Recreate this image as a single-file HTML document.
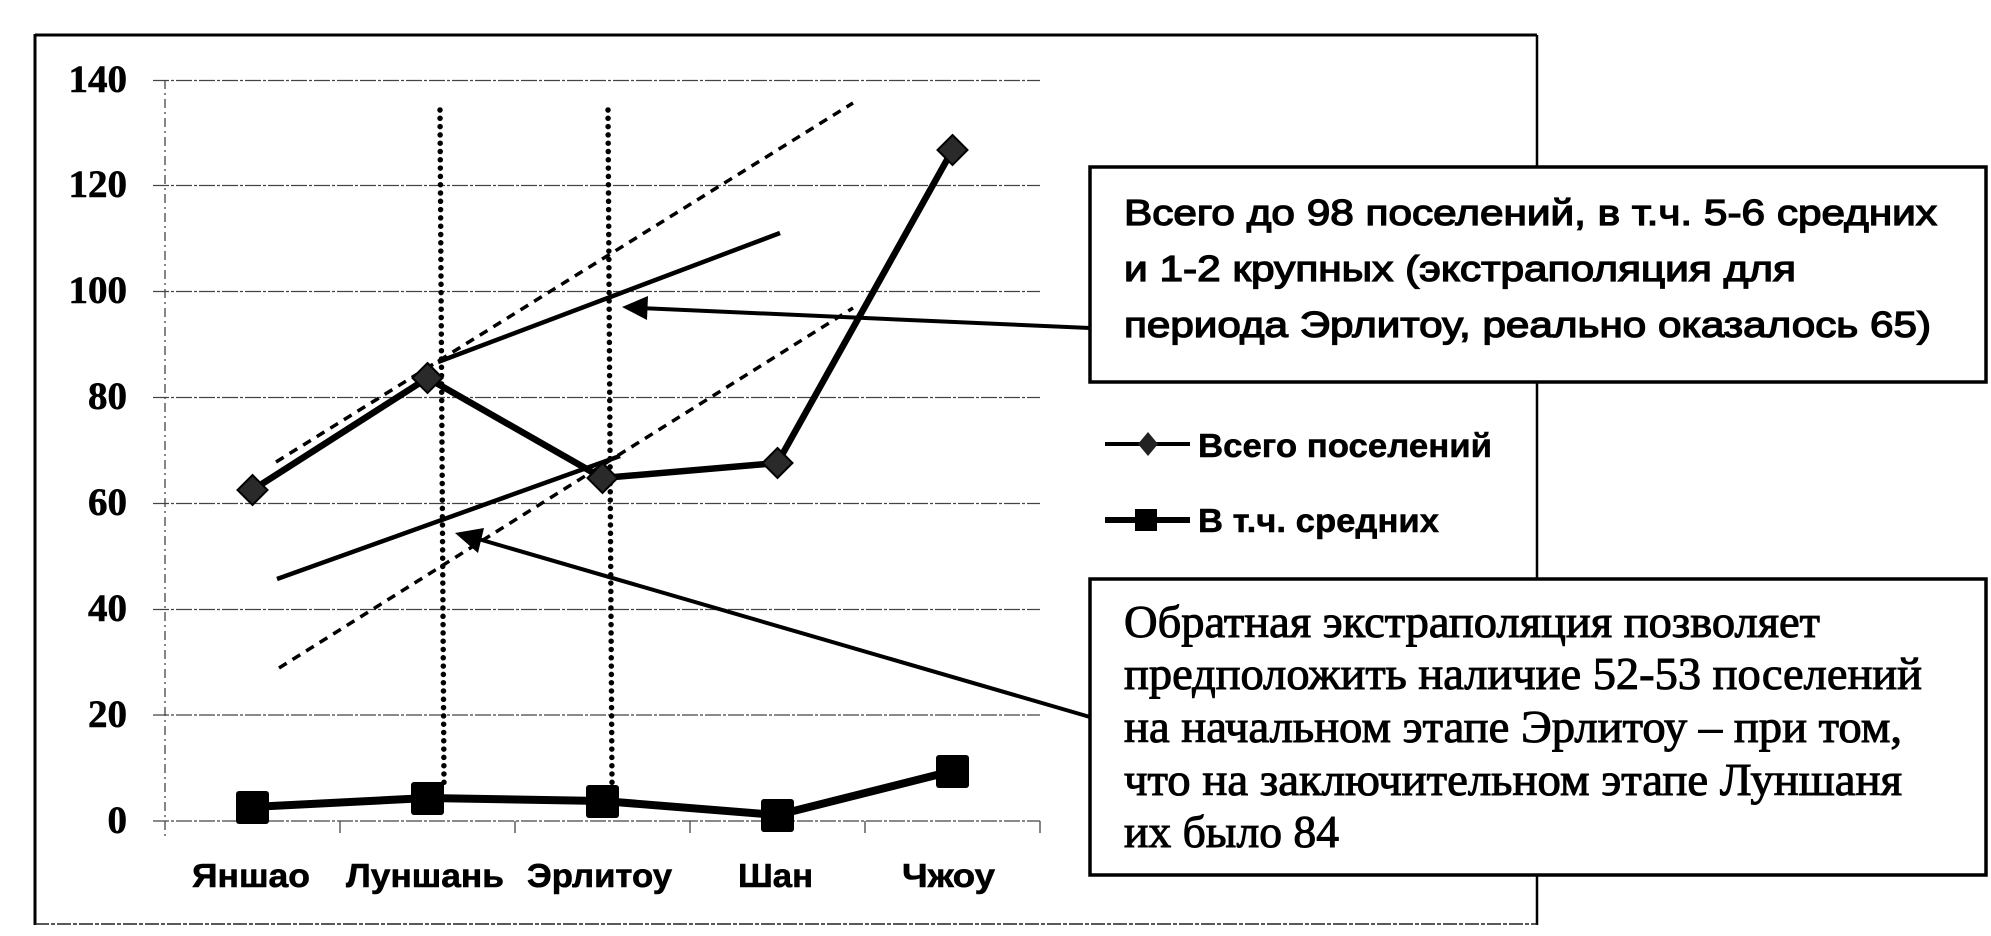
<!DOCTYPE html>
<html><head><meta charset="utf-8"><style>
html,body{margin:0;padding:0;background:#fff;}
svg{display:block;}
</style></head><body>
<svg width="1991" height="936" viewBox="0 0 1991 936" xmlns="http://www.w3.org/2000/svg">
<rect width="1991" height="936" fill="#fff"/>
<!-- outer chart border -->
<line x1="35" y1="35" x2="1537" y2="35" stroke="#000" stroke-width="3"/>
<line x1="35" y1="34" x2="35" y2="925" stroke="#000" stroke-width="3"/>
<line x1="1537" y1="35" x2="1537" y2="925" stroke="#000" stroke-width="2.5"/>
<line x1="35" y1="924" x2="1537" y2="924" stroke="#222" stroke-width="1.6" stroke-dasharray="14 2 4 2"/>

<!-- gridlines -->
<g stroke="#444" stroke-width="1.3" stroke-dasharray="16 2 3 2">
<line x1="153" y1="80.5" x2="1040" y2="80.5"/>
<line x1="153" y1="185.5" x2="1040" y2="185.5"/>
<line x1="153" y1="291.5" x2="1040" y2="291.5"/>
<line x1="153" y1="397.5" x2="1040" y2="397.5"/>
<line x1="153" y1="503.5" x2="1040" y2="503.5"/>
<line x1="153" y1="609.5" x2="1040" y2="609.5"/>
<line x1="153" y1="715" x2="1040" y2="715"/>
<line x1="153" y1="821" x2="1040" y2="821"/>
</g>
<!-- y axis -->
<line x1="165" y1="80" x2="165" y2="836" stroke="#444" stroke-width="1.3" stroke-dasharray="9 4 2 4"/>
<!-- x ticks -->
<g stroke="#444" stroke-width="1.3">
<line x1="340" y1="821" x2="340" y2="833"/>
<line x1="515" y1="821" x2="515" y2="833"/>
<line x1="690" y1="821" x2="690" y2="833"/>
<line x1="865" y1="821" x2="865" y2="833"/>
<line x1="1040" y1="821" x2="1040" y2="833"/>
</g>

<!-- y labels -->
<g font-family="Liberation Serif, serif" font-weight="bold" font-size="39" text-anchor="end" fill="#000" stroke="#000" stroke-width="0.6">
<text x="127" y="92">140</text>
<text x="127" y="197">120</text>
<text x="127" y="303">100</text>
<text x="127" y="409">80</text>
<text x="127" y="515">60</text>
<text x="127" y="621">40</text>
<text x="127" y="727">20</text>
<text x="127" y="833">0</text>
</g>

<!-- x labels -->
<g font-family="Liberation Sans, sans-serif" font-weight="bold" font-size="33" fill="#000" stroke="#000" stroke-width="0.6">
<text x="192" y="887" textLength="118" lengthAdjust="spacingAndGlyphs">Яншао</text>
<text x="346" y="887" textLength="158" lengthAdjust="spacingAndGlyphs">Луншань</text>
<text x="527" y="887" textLength="145" lengthAdjust="spacingAndGlyphs">Эрлитоу</text>
<text x="738" y="887" textLength="75" lengthAdjust="spacingAndGlyphs">Шан</text>
<text x="902" y="887" textLength="93" lengthAdjust="spacingAndGlyphs">Чжоу</text>
</g>

<!-- vertical dotted lines -->
<g stroke="#000" stroke-width="5.5" stroke-linecap="round" stroke-dasharray="0 8.3" fill="none">
<line x1="440" y1="110" x2="444" y2="783"/>
<line x1="608" y1="110" x2="612" y2="783"/>
</g>

<!-- dashed trend lines -->
<g stroke="#000" stroke-width="3.5" stroke-dasharray="9 7" fill="none">
<line x1="276" y1="462" x2="853" y2="103"/>
<line x1="279" y1="668" x2="853" y2="308"/>
</g>
<!-- solid trend lines -->
<g stroke="#000" stroke-width="4.5" fill="none">
<line x1="438" y1="362" x2="780" y2="233"/>
<line x1="277" y1="579" x2="620" y2="456"/>
</g>

<!-- Всего series -->
<polyline points="252.5,490 427.5,378 602.5,478 777.5,463 952.5,150" fill="none" stroke="#000" stroke-width="6.5" stroke-linejoin="round"/>
<g fill="#2a2a2a" stroke="#000" stroke-width="2">
<polygon points="252.5,475 267.5,490 252.5,505 237.5,490"/>
<polygon points="427.5,363 442.5,378 427.5,393 412.5,378"/>
<polygon points="602.5,463 617.5,478 602.5,493 587.5,478"/>
<polygon points="777.5,448 792.5,463 777.5,478 762.5,463"/>
<polygon points="952.5,135 967.5,150 952.5,165 937.5,150"/>
</g>

<!-- Средних series -->
<polyline points="252.5,807 427.5,798 602.5,801 777.5,815 952.5,771" fill="none" stroke="#000" stroke-width="8" stroke-linejoin="round"/>
<g fill="#000">
<rect x="236" y="791" width="33" height="33" rx="3"/>
<rect x="411" y="782" width="33" height="33" rx="3"/>
<rect x="586" y="785" width="33" height="33" rx="3"/>
<rect x="761" y="799" width="33" height="33" rx="3"/>
<rect x="936" y="755" width="33" height="33" rx="3"/>
</g>

<!-- legend -->
<line x1="1105" y1="444" x2="1190" y2="444" stroke="#000" stroke-width="4"/>
<polygon points="1148,432 1158,444 1148,456 1138,444" fill="#222"/>
<line x1="1105" y1="520" x2="1190" y2="520" stroke="#000" stroke-width="6"/>
<rect x="1135" y="509" width="22" height="22" fill="#000"/>
<g font-family="Liberation Sans, sans-serif" font-weight="bold" font-size="33" fill="#000" stroke="#000" stroke-width="0.5">
<text x="1198" y="457" textLength="294" lengthAdjust="spacingAndGlyphs">Всего поселений</text>
<text x="1198" y="532" textLength="241" lengthAdjust="spacingAndGlyphs">В т.ч. средних</text>
</g>

<!-- arrows -->
<g stroke="#000" stroke-width="4" fill="none">
<line x1="1090" y1="328" x2="640" y2="308"/>
<line x1="1090" y1="717" x2="475" y2="538"/>
</g>
<polygon points="622,307 648,296 647,320" fill="#000"/>
<polygon points="455,533 484,528 478,553" fill="#000"/>

<!-- box 1 -->
<rect x="1090" y="167" width="896" height="215" fill="#fff" stroke="#000" stroke-width="3.5"/>
<g font-family="Liberation Sans, sans-serif" font-size="36" fill="#000" stroke="#000" stroke-width="1.3">
<text x="1124" y="225" textLength="813" lengthAdjust="spacingAndGlyphs">Всего до 98 поселений, в т.ч. 5-6 средних</text>
<text x="1124" y="281" textLength="672" lengthAdjust="spacingAndGlyphs">и 1-2 крупных (экстраполяция для</text>
<text x="1124" y="337" textLength="807" lengthAdjust="spacingAndGlyphs">периода Эрлитоу, реально оказалось 65)</text>
</g>

<!-- box 2 -->
<rect x="1090" y="579" width="896" height="296" fill="#fff" stroke="#000" stroke-width="3.5"/>
<g font-family="Liberation Serif, serif" font-size="45" fill="#000" stroke="#000" stroke-width="1">
<text x="1124" y="637" textLength="696" lengthAdjust="spacingAndGlyphs">Обратная экстраполяция позволяет</text>
<text x="1124" y="689" textLength="798" lengthAdjust="spacingAndGlyphs">предположить наличие 52-53 поселений</text>
<text x="1124" y="742" textLength="778" lengthAdjust="spacingAndGlyphs">на начальном этапе Эрлитоу – при том,</text>
<text x="1124" y="795" textLength="778" lengthAdjust="spacingAndGlyphs">что на заключительном этапе Луншаня</text>
<text x="1124" y="847" textLength="215" lengthAdjust="spacingAndGlyphs">их было 84</text>
</g>
</svg>
</body></html>
